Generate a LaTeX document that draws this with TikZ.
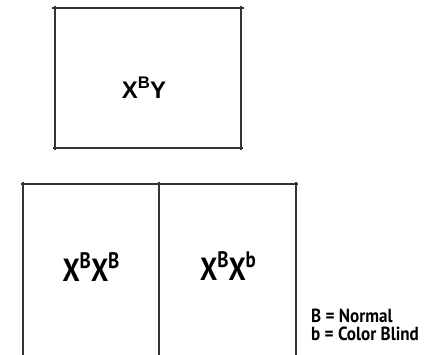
\documentclass[tikz,border=0pt]{standalone}
\usepackage{fontspec}
\setmainfont{Liberation Sans}
\newfontfamily\narrowfont[FakeStretch=0.85]{PT Sans}
\newfontfamily\keyfont[FakeStretch=0.9]{PT Sans}
\usetikzlibrary{positioning}
\definecolor{edge}{HTML}{333333}
\newcommand{\allele}[2]{#1\raisebox{0.42em}{\fontsize{0.7em}{1em}\selectfont #2}}

\begin{document}
\begin{tikzpicture}[x=1pt, y=-1pt,
    wall/.style={line width=1.1pt, color=edge},
    geno/.style={font=\fontsize{24}{26}\selectfont\bfseries, inner sep=0pt},
    genob/.style={font=\narrowfont\fontsize{32}{34}\selectfont\bfseries, inner sep=0pt},
    key/.style={font=\keyfont\fontsize{19}{21}\selectfont\bfseries, anchor=west, inner sep=0pt}
  ]
  \useasboundingbox (0,0) rectangle (429,355);

  % ---- case du pere ----
  \coordinate (tl) at (55,6);   \coordinate (tlb) at (55,150);
  \coordinate (tr) at (241,6);  \coordinate (trb) at (241,150);
  \draw[wall] (52,8) coordinate (th1) -- (244,8) coordinate (th2);
  \draw[wall] (53,148) coordinate (bh1) -- (243,148) coordinate (bh2);
  \draw[wall] (tl) -- (tlb);
  \draw[wall] (tr) -- (trb);
  \node[geno] (fa) at (144,88) {\allele{X}{B}Y};

  % ---- cases des filles ----
  \coordinate (l1) at (23,182);  \coordinate (l2) at (23,355);
  \coordinate (m1) at (159,182); \coordinate (m2) at (159,355);
  \coordinate (r1) at (296,182); \coordinate (r2) at (296,355);
  \draw[wall] (21,184) coordinate (h1) -- (298,184) coordinate (h2);
  \draw[wall] (l1) -- (l2);
  \draw[wall] (m1) -- (m2);
  \draw[wall] (r1) -- (r2);
  \node[genob] (d1) at (91,267) {\allele{X}{B}\allele{X}{B}};
  \node[genob] (d2) at (228,266) {\allele{X}{B}\allele{X}{b}};

  % ---- legende ----
  \node[key] (k1) at (311,316) {B = Normal};
  \node[key] (k2) at (311,334) {b = Color Blind};

\end{tikzpicture}
\end{document}
